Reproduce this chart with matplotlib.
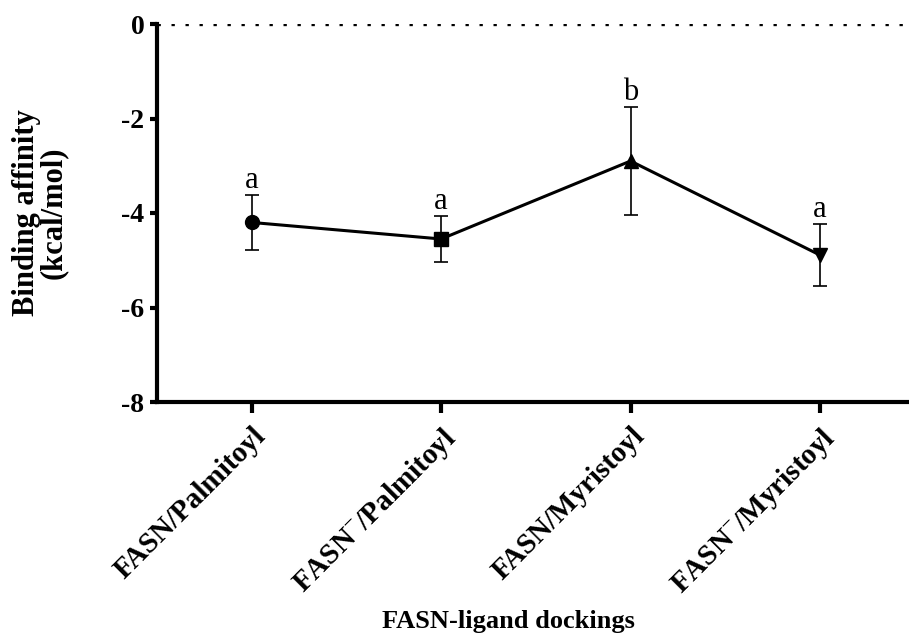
import numpy as np
import matplotlib
matplotlib.use("Agg")
import matplotlib.pyplot as plt

plt.rcParams['font.family'] = ['Liberation Serif', 'DejaVu Serif']
plt.rcParams['mathtext.fontset'] = 'custom'
plt.rcParams['mathtext.rm'] = 'Liberation Serif'
plt.rcParams['mathtext.bf'] = 'Liberation Serif:bold'

# data
groups = ['FASN/Palmitoyl', 'FASN$^{-}$/Palmitoyl',
          'FASN/Myristoyl', 'FASN$^{-}$/Myristoyl']
affinity = [-4.20, -4.55, -2.90, -4.89]
sd = [0.58, 0.48, 1.15, 0.65]
letters = ['a', 'a', 'b', 'a']
markers = ['o', 's', '^', 'v']
y_ticks = [0, -2, -4, -6, -8]

W, H = 909, 636
fig = plt.figure(figsize=(W / 100, H / 100), dpi=100)
ax = fig.add_axes([157 / W, 1 - 402 / H, 1 - 157 / W, (402 - 24) / H])

x = np.arange(len(groups))
ax.plot(x, affinity, color='black', lw=2.2, zorder=2)
for xi, yi, m in zip(x, affinity, markers):
    ax.plot(xi, yi, marker=m, color='black', markersize=10, zorder=3)
ax.errorbar(x, affinity, yerr=sd, fmt='none', ecolor='black',
            elinewidth=1.2, capsize=5, capthick=1.2, zorder=4)

for xi, yi, e, lab in zip(x, affinity, sd, letters):
    ax.annotate(lab, (xi, yi + e), xytext=(0, 0), textcoords='offset points',
                ha='center', va='bottom', fontsize=22)

ax.axhline(0, color='black', lw=2.4, linestyle=(0, (1, 3.2)), zorder=1)

ax.set_xlim(-0.5, 3.47)
ax.set_ylim(-8, 0)
ax.set_yticks(y_ticks)
ax.set_yticklabels([str(v) for v in y_ticks], fontsize=20, fontweight='bold')
ax.set_xticks(x)
ax.set_xticklabels(groups, rotation=45, ha='right', rotation_mode='anchor',
                   fontsize=21, fontweight='bold')

for s in ['top', 'right']:
    ax.spines[s].set_visible(False)
for s in ['left', 'bottom']:
    ax.spines[s].set_linewidth(3)
ax.tick_params(axis='y', length=5, width=3, pad=4)
ax.tick_params(axis='x', length=8, width=3, pad=7)

ax.set_ylabel('Binding affinity\n(kcal/mol)', fontsize=22, fontweight='bold',
              linespacing=0.9)
ax.yaxis.set_label_coords(-0.118, 0.5)
ax.set_xlabel('FASN-ligand dockings', fontsize=19, fontweight='bold')
ax.xaxis.set_label_coords(0.468, -0.55)

fig.savefig('out.png', dpi=100)
